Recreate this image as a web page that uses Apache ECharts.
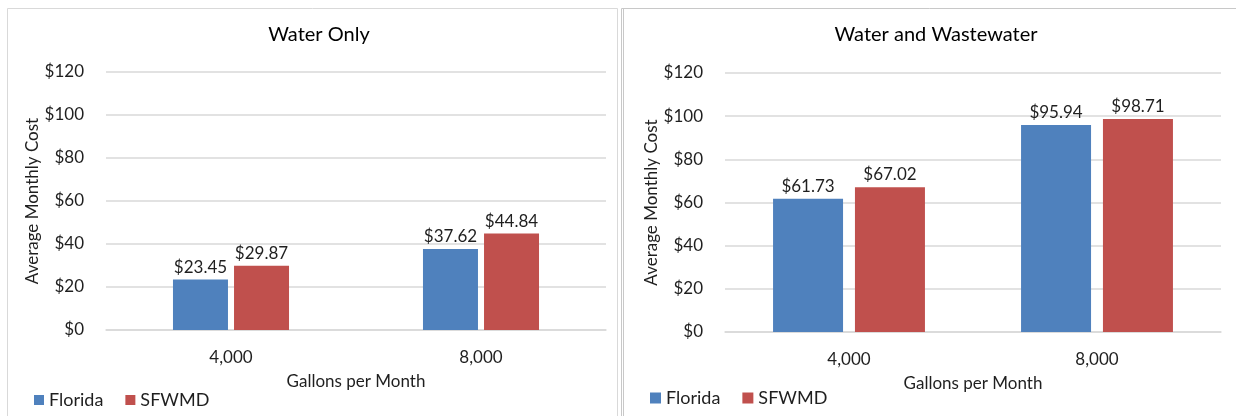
<!DOCTYPE html>
<html>
<head>
<meta charset="utf-8">
<script src="https://cdn.jsdelivr.net/npm/echarts@6/dist/echarts.min.js"></script>
<style>
  html, body { margin: 0; padding: 0; background: #fff; }
  #chart { width: 1236px; height: 416px; }
</style>
</head>
<body>
<div id="chart"></div>
<script>
const categories = ['4,000', '8,000']
const seriesNames = ['Florida', 'SFWMD']
const waterOnlyFlorida = [23.45, 37.62]
const waterOnlySfwmd = [29.87, 44.84]
const wastewaterFlorida = [61.73, 95.94]
const wastewaterSfwmd = [67.02, 98.71]
const panelTitles = ['Water Only', 'Water and Wastewater']

const colors = ['#4f81bd', '#c0504d']
const font = 'Lato, "Open Sans", sans-serif'
const textColor = '#1f1f1f'
const gridColor = '#d9d9d9'

const chart = echarts.init(document.getElementById('chart'))

const makeXAxis = (gridIndex) => ({
  type: 'category',
  gridIndex,
  data: categories,
  axisTick: { show: false },
  axisLine: { lineStyle: { color: gridColor, width: 1.5 } },
  axisLabel: { color: textColor, fontSize: 17, fontFamily: font, margin: 19 },
  name: 'Gallons per Month',
  nameLocation: 'middle',
  nameGap: 43,
  nameTextStyle: { color: textColor, fontSize: 17, fontFamily: font }
})

const makeYAxis = (gridIndex) => ({
  type: 'value',
  gridIndex,
  min: 0,
  max: 120,
  interval: 20,
  axisLine: { show: false },
  axisTick: { show: false },
  axisLabel: {
    color: textColor,
    fontSize: 17,
    fontFamily: font,
    margin: 22,
    formatter: (v) => '$' + v
  },
  splitLine: { lineStyle: { color: gridColor, width: 1.5 } },
  name: 'Average Monthly Cost',
  nameLocation: 'middle',
  nameGap: 65,
  nameTextStyle: { color: textColor, fontSize: 17, fontFamily: font }
})

const makeBar = (name, data, index, barWidth, barGap) => ({
  name,
  type: 'bar',
  xAxisIndex: index,
  yAxisIndex: index,
  data,
  barWidth,
  barGap,
  itemStyle: { color: colors[seriesNames.indexOf(name)] },
  label: {
    show: true,
    position: 'top',
    distance: 4,
    color: textColor,
    fontSize: 17,
    fontFamily: font,
    formatter: ({ value }) => '$' + value.toFixed(2)
  }
})

chart.setOption({
  backgroundColor: '#fff',
  animation: false,
  title: [
    { text: panelTitles[0], left: 314, top: 20, textAlign: 'center',
      textStyle: { color: '#000', fontSize: 20, fontWeight: 'normal', fontFamily: font } },
    { text: panelTitles[1], left: 931, top: 20, textAlign: 'center',
      textStyle: { color: '#000', fontSize: 20, fontWeight: 'normal', fontFamily: font } }
  ],
  legend: [
    { data: seriesNames, left: 29, top: 386, itemWidth: 10, itemHeight: 10, itemGap: 22, icon: 'rect',
      textStyle: { color: textColor, fontSize: 18, fontFamily: font } },
    { data: seriesNames, left: 645, top: 384, itemWidth: 11, itemHeight: 11, itemGap: 22, icon: 'rect',
      textStyle: { color: textColor, fontSize: 18, fontFamily: font } }
  ],
  grid: [
    { left: 106, right: 630, top: 72, height: 258 },
    { left: 725, right: 15, top: 73, height: 259 }
  ],
  xAxis: [makeXAxis(0), makeXAxis(1)],
  yAxis: [makeYAxis(0), makeYAxis(1)],
  series: [
    makeBar('Florida', waterOnlyFlorida, 0, 55, '11%'),
    makeBar('SFWMD', waterOnlySfwmd, 0, 55, '11%'),
    makeBar('Florida', wastewaterFlorida, 1, 70, '17%'),
    makeBar('SFWMD', wastewaterSfwmd, 1, 70, '17%')
  ],
  graphic: [
    { type: 'rect', shape: { x: 7.5, y: 8.5, width: 610, height: 420 },
      style: { fill: 'none', stroke: gridColor, lineWidth: 1 }, silent: true },
    { type: 'rect', shape: { x: 621.5, y: 8.5, width: 630, height: 420 },
      style: { fill: 'none', stroke: '#c8c8c8', lineWidth: 1 }, silent: true },
    { type: 'line', shape: { x1: 623.5, y1: 8.5, x2: 623.5, y2: 416 },
      style: { stroke: '#c8c8c8', lineWidth: 1 }, silent: true }
  ]
})
</script>
</body>
</html>
